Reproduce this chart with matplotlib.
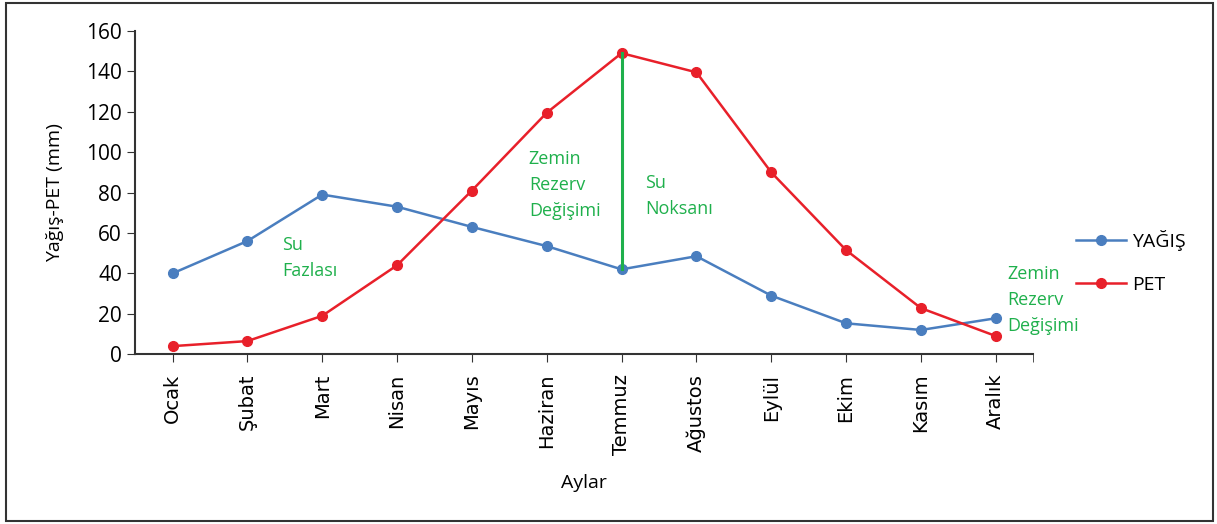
import matplotlib
matplotlib.use("Agg")
import matplotlib.pyplot as plt
from matplotlib.patches import Rectangle

# monthly values
aylar = ["Ocak", "Şubat", "Mart", "Nisan", "Mayıs", "Haziran",
         "Temmuz", "Ağustos", "Eylül", "Ekim", "Kasım", "Aralık"]
yagis = [40, 56, 79, 73, 63, 53.5, 42, 48.5, 29, 15.3, 12, 17.8]
pet = [4, 6.5, 19, 44, 81, 119.5, 149, 139.5, 90, 51.5, 22.8, 9]
yticks = [0, 20, 40, 60, 80, 100, 120, 140, 160]

notlar = [
	("Su\nFazlası", 1.46, 58.5),
	("Zemin\nRezerv\nDeğişimi", 4.76, 101),
	("Su\nNoksanı", 6.32, 89),
	("Zemin\nRezerv\nDeğişimi", 11.15, 44),
]

plt.rcParams['font.family'] = ['Open Sans', 'DejaVu Sans']

mavi = "#4a7ebf"
kirmizi = "#e8202a"
yesil = "#1fb04c"
koyu = "#333333"

fig = plt.figure(figsize=(12.17, 5.24), dpi=100)
ax = fig.add_axes([0.111, 0.324, 0.738, 0.617])

x = list(range(len(aylar)))
ax.plot(x, yagis, color=mavi, lw=1.8, marker="o", ms=7, label="YAĞIŞ")
ax.plot(x, pet, color=kirmizi, lw=1.8, marker="o", ms=7, label="PET")

# temmuz: PET ile yagis arasi
t = aylar.index("Temmuz")
ax.plot([t, t], [pet[t], yagis[t]], color=yesil, lw=2.2, zorder=3)

for metin, tx, ty in notlar:
	ax.text(tx, ty, metin, color=yesil, fontsize=13, va="top", ha="left",
		linespacing=1.55, clip_on=False)

ax.set_xlim(-0.5, 11.5)
ax.set_ylim(0, 160)
ax.set_yticks(yticks)
ax.set_xticks(x)
ax.set_xticks([11.5], minor=True)
ax.set_xticklabels(aylar, rotation=90)
for lbl in ax.get_xticklabels():
	lbl.set_fontfamily("DejaVu Sans")
	lbl.set_fontsize(14)
ax.tick_params(axis="y", labelsize=15, length=6, color=koyu, labelcolor="black")
ax.tick_params(axis="x", which="both", length=6, color=koyu, pad=8)
for s in ["top", "right"]:
	ax.spines[s].set_visible(False)
for s in ["left", "bottom"]:
	ax.spines[s].set_color(koyu)
	ax.spines[s].set_linewidth(1.5)

ax.set_ylabel("Yağış-PET (mm)", fontsize=14, labelpad=16)
ax.set_xlabel("Aylar", fontsize=14, labelpad=14)

ax.legend(loc="center left", bbox_to_anchor=(1.028, 0.285), frameon=False,
	fontsize=14, handlelength=2.6, handletextpad=0.3, labelspacing=1.3)

fig.patches.append(Rectangle((6/1217, 3/524), 1207/1217, 518/524,
	transform=fig.transFigure, fill=False, edgecolor=koyu, lw=1.5))

fig.savefig("out.png", dpi=100)
